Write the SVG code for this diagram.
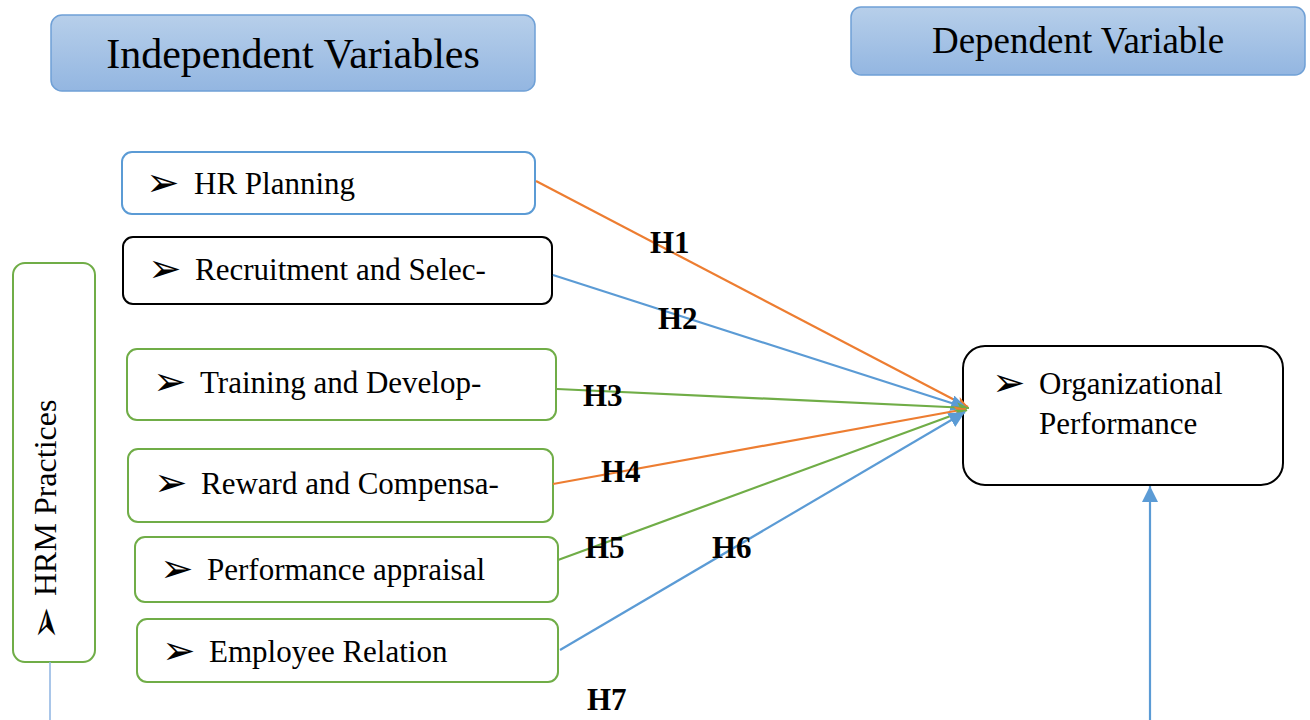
<svg xmlns="http://www.w3.org/2000/svg" width="1310" height="720" viewBox="0 0 1310 720">
<style>
.t{font-family:"Liberation Serif","Times New Roman",serif;fill:#000}
.b{font-family:"DejaVu Sans",sans-serif;fill:#000;font-size:40px}
.h{font-family:"Liberation Serif","Times New Roman",serif;font-weight:bold;font-size:31px;fill:#000}
.box{fill:#fff;stroke-width:2}
.hdr{fill:url(#g);stroke:#6fa0d6;stroke-width:1.5}
.c{fill:none;stroke-width:2.2}
</style>
<defs>
<linearGradient id="g" x1="0" y1="0" x2="0" y2="1">
<stop offset="0" stop-color="#b7cfea"/>
<stop offset="1" stop-color="#93b6e1"/>
</linearGradient>
<marker id="ao" viewBox="0 0 12 10" refX="12" refY="5" markerWidth="12" markerHeight="10" markerUnits="userSpaceOnUse" orient="auto"><path d="M0,0 L12,5 L0,10 L3,5 z" fill="#ed7d31"/></marker>
<marker id="ab" viewBox="0 0 16 16" refX="16" refY="8" markerWidth="16" markerHeight="16" markerUnits="userSpaceOnUse" orient="auto"><path d="M0,0 L16,8 L0,16 z" fill="#5b9bd5"/></marker>
<marker id="ag" viewBox="0 0 12 10" refX="12" refY="5" markerWidth="12" markerHeight="10" markerUnits="userSpaceOnUse" orient="auto"><path d="M0,0 L12,5 L0,10 L3,5 z" fill="#70ad47"/></marker>
</defs>

<g id="hdr-independent">
<rect class="hdr" x="51" y="15" width="484" height="76" rx="11"/>
<text class="t" x="293" y="68" font-size="42" text-anchor="middle">Independent Variables</text>
</g>
<g id="hdr-dependent">
<rect class="hdr" x="851" y="7" width="454" height="68" rx="10"/>
<text class="t" x="1078" y="53" font-size="37" text-anchor="middle">Dependent Variable</text>
</g>

<g id="hrm-practices">
<rect class="box" x="13" y="263" width="82" height="399" rx="12" stroke="#70ad47"/>
<text class="t" font-size="32" transform="translate(56,596) rotate(-90)">HRM Practices</text>
<text class="b" transform="translate(59,640) rotate(-90)">➢</text>
</g>

<g id="hr-planning">
<rect class="box" x="122" y="152" width="413" height="62" rx="10" stroke="#5b9bd5"/>
<text class="b" x="146" y="196">➢</text>
<text class="t" x="194" y="194" font-size="31">HR Planning</text>
</g>
<g id="recruitment">
<rect class="box" x="123" y="237" width="429" height="67" rx="10" stroke="#000"/>
<text class="b" x="148" y="282">➢</text>
<text class="t" x="195" y="280" font-size="31">Recruitment and Selec-</text>
</g>
<g id="training">
<rect class="box" x="127" y="349" width="429" height="71" rx="10" stroke="#70ad47"/>
<text class="b" x="153" y="395">➢</text>
<text class="t" x="200" y="393" font-size="31">Training and Develop-</text>
</g>
<g id="reward">
<rect class="box" x="128" y="449" width="425" height="73" rx="10" stroke="#70ad47"/>
<text class="b" x="154" y="496">➢</text>
<text class="t" x="201" y="494" font-size="31">Reward and Compensa-</text>
</g>
<g id="performance-appraisal">
<rect class="box" x="135" y="537" width="423" height="65" rx="10" stroke="#70ad47"/>
<text class="b" x="160" y="582">➢</text>
<text class="t" x="207" y="580" font-size="31">Performance appraisal</text>
</g>
<g id="employee-relation">
<rect class="box" x="137" y="619" width="421" height="63" rx="10" stroke="#70ad47"/>
<text class="b" x="162" y="664">➢</text>
<text class="t" x="209" y="662" font-size="31">Employee Relation</text>
</g>

<g id="org-performance">
<rect class="box" x="963" y="346" width="320" height="139" rx="22" stroke="#000" stroke-width="3"/>
<text class="b" x="992" y="396">➢</text>
<text class="t" x="1039" y="394" font-size="31">Organizational</text>
<text class="t" x="1039" y="434" font-size="31">Performance</text>
</g>

<g id="connectors">
<line class="c" x1="536" y1="181" x2="968" y2="407" stroke="#ed7d31" marker-end="url(#ao)"/>
<line class="c" x1="553" y1="275" x2="967" y2="408" stroke="#5b9bd5" marker-end="url(#ab)"/>
<line class="c" x1="557" y1="389" x2="969" y2="408" stroke="#70ad47" marker-end="url(#ag)"/>
<line class="c" x1="553" y1="484" x2="966" y2="409" stroke="#ed7d31" marker-end="url(#ao)"/>
<line class="c" x1="558" y1="560" x2="967" y2="410" stroke="#70ad47" marker-end="url(#ag)"/>
<line class="c" x1="560" y1="650" x2="965" y2="412" stroke="#5b9bd5" marker-end="url(#ab)"/>
<line class="c" x1="1150" y1="720" x2="1150" y2="486" stroke="#5b9bd5" marker-end="url(#ab)"/>
<line x1="50" y1="662" x2="50" y2="720" stroke="#8db3e2" stroke-width="1.5"/>
</g>

<g id="labels">
<text class="h" x="650" y="253">H1</text>
<text class="h" x="658" y="329">H2</text>
<text class="h" x="583" y="406">H3</text>
<text class="h" x="601" y="482">H4</text>
<text class="h" x="585" y="558">H5</text>
<text class="h" x="712" y="558">H6</text>
<text class="h" x="587" y="710">H7</text>
</g>
</svg>
